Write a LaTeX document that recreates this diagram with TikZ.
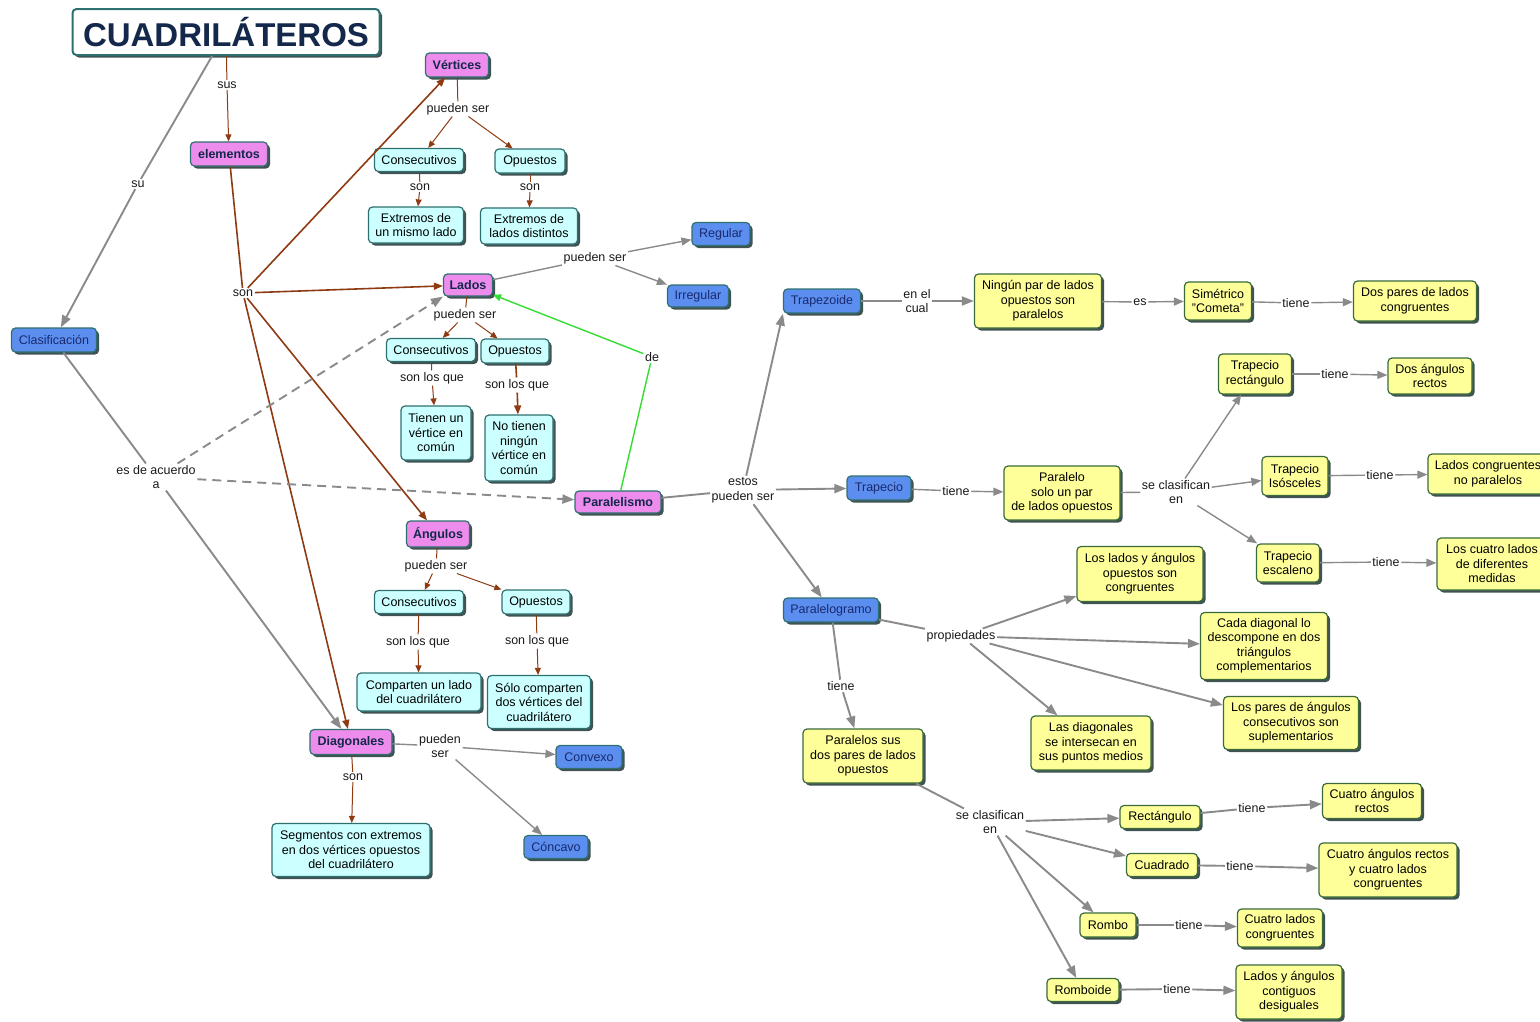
\documentclass[tikz,border=0pt]{standalone}
\usepackage{fontspec}
\setmainfont{Liberation Sans}
\usetikzlibrary{arrows.meta,shadows}
\definecolor{pinkf}{HTML}{EE8CEE}
\definecolor{cyanf}{HTML}{CCFFFF}
\definecolor{bluef}{HTML}{5B8EEE}
\definecolor{yellf}{HTML}{FFFF99}
\definecolor{bordc}{HTML}{2E7070}
\definecolor{yellb}{HTML}{3A6A3A}
\definecolor{shadc}{HTML}{1E3434}
\definecolor{navyt}{HTML}{13284A}
\definecolor{navyb}{HTML}{1A2A70}
\definecolor{brownc}{HTML}{8E3A12}
\definecolor{grayc}{HTML}{8A8A8A}
\definecolor{greenc}{HTML}{33DD33}
\newcommand\nfont{\fontsize{12.5}{14.5}\selectfont}
\begin{document}
\begin{tikzpicture}[x=1pt,y=-1pt,
 base/.style={draw=bordc, line width=1.2pt, rounded corners=4pt, align=center, inner sep=2pt, font=\nfont,
   drop shadow={shadow xshift=2.5pt,shadow yshift=-2.5pt,fill=shadc,opacity=0.85}},
 pinkn/.style={base, fill=pinkf, text=navyt, font=\nfont\bfseries},
 cyann/.style={base, fill=cyanf, text=black},
 bluen/.style={base, fill=bluef, text=navyb},
 yelln/.style={base, fill=yellf, draw=yellb, text=black},
 sz/.style 2 args={minimum width=#1pt, minimum height=#2pt},
 lbl/.style={inner sep=1.5pt, text=black!90, align=center, font=\nfont},
 bline/.style={draw=brownc, line width=1pt},
 barrow/.style={bline, -{Triangle[length=7pt,width=6pt]}},
 Bline/.style={draw=brownc, line width=1.6pt},
 Barrow/.style={Bline, -{Triangle[length=9pt,width=7pt]}},
 gline/.style={draw=grayc, line width=1.9pt},
 garrow/.style={gline, -{Triangle[length=12pt,width=9pt]}},
 tline/.style={draw=grayc, line width=1.4pt},
 tarrow/.style={tline, -{Triangle[length=10pt,width=8pt]}},
 gdash/.style={draw=grayc, line width=1.9pt, dash pattern=on 9pt off 6pt, -{Triangle[length=12pt,width=9pt]}},
 grline/.style={draw=greenc, line width=1.4pt},
]
\useasboundingbox (0,0) rectangle (1540,1021);
% ---------- main nodes ----------
\node[base, draw=bordc, line width=2pt, fill=white, text=navyt, sz={307}{46}, font=\fontsize{33}{38}\selectfont\bfseries] (title) at (226,32) {CUADRILÁTEROS};
\node[pinkn, sz={77}{24}] (elem) at (229,154) {elementos};
\node[pinkn, sz={63}{24}] (vert) at (457,65) {Vértices};
\node[pinkn, sz={49}{22}] (lados) at (468,285) {Lados};
\node[pinkn, sz={63}{26}] (ang) at (438,534) {Ángulos};
\node[pinkn, sz={82}{25}] (diag) at (351,742) {Diagonales};
\node[pinkn, sz={86}{22}] (paral) at (618,502) {Paralelismo};
\node[bluen, sz={85}{24}] (clas) at (54,340) {Clasificación};
% ---------- labels left ----------
\node[lbl] (lsus) at (227,85) {sus};
\node[lbl] (lsu) at (138,184) {su};
\node[lbl] (lson) at (243,293) {son};
\node[lbl] (lacu) at (156,477) {es de acuerdo\\a};
% ---------- Vertices ----------
\node[lbl] (lvps) at (458,109) {pueden ser};
\node[cyann, sz={89}{23}] (vcon) at (419,160) {Consecutivos};
\node[cyann, sz={70}{24}] (vop) at (530,161) {Opuestos};
\node[lbl] (lvs1) at (420,187) {son};
\node[lbl] (lvs2) at (530,187) {son};
\node[cyann, sz={95}{36}] (vext1) at (416,225) {Extremos de\\un mismo lado};
\node[cyann, sz={97}{36}] (vext2) at (529,226) {Extremos de\\lados distintos};
% ---------- Lados ----------
\node[lbl] (llps1) at (595,258) {pueden ser};
\node[bluen, sz={58}{23}] (reg) at (721,234) {Regular};
\node[bluen, sz={61}{22}] (irr) at (698,296) {Irregular};
\node[lbl] (llps2) at (465,315) {pueden ser};
\node[cyann, sz={89}{23}] (lcon) at (431,350) {Consecutivos};
\node[cyann, sz={68}{24}] (lop) at (515,351) {Opuestos};
\node[lbl] (lsq1) at (432,378) {son los que};
\node[lbl] (lsq2) at (517,385) {son los que};
\node[cyann, sz={70}{54}] (lt1) at (436,433) {Tienen un\\vértice en\\común};
\node[cyann, sz={68}{66}] (lt2) at (519,448) {No tienen\\ningún\\vértice en\\común};
% ---------- Angulos ----------
\node[lbl] (laps) at (436,566) {pueden ser};
\node[cyann, sz={89}{23}] (acon) at (419,602) {Consecutivos};
\node[cyann, sz={68}{24}] (aop) at (536,602) {Opuestos};
\node[lbl] (asq1) at (418,642) {son los que};
\node[lbl] (asq2) at (537,641) {son los que};
\node[cyann, sz={124}{38}] (at1) at (419,692) {Comparten un lado\\del cuadrilátero};
\node[cyann, sz={103}{53}] (at2) at (539,702) {Sólo comparten\\dos vértices del\\cuadrilátero};
% ---------- Diagonales ----------
\node[lbl] (ldson) at (353,777) {son};
\node[cyann, sz={158}{53}] (dseg) at (351,850) {Segmentos con extremos\\en dos vértices opuestos\\del cuadrilátero};
\node[lbl] (ldps) at (440,746) {pueden\\ser};
\node[bluen, sz={66}{23}] (conv) at (589,757) {Convexo};
\node[bluen, sz={64}{23}] (conc) at (556,847) {Cóncavo};
% ---------- Paralelismo ----------
\node[lbl] (lde) at (652,357) {de};
\node[lbl] (lest) at (743,490) {estos\\pueden ser};
\node[bluen, sz={77}{24}] (trz) at (822,301) {Trapezoide};
\node[bluen, sz={64}{24}] (trp) at (879,488) {Trapecio};
\node[bluen, sz={95}{24}] (plg) at (831,610) {Paralelogramo};
% ---------- Trapezoide ----------
\node[lbl] (lenc) at (917,301) {en el\\cual};
\node[yelln, sz={127}{54}] (ning) at (1038,301) {Ningún par de lados\\opuestos son\\paralelos};
\node[lbl] (les) at (1140,302) {es};
\node[yelln, sz={67}{38}] (sim) at (1218,301) {Simétrico\\"Cometa"};
\node[lbl] (lti1) at (1296,303) {tiene};
\node[yelln, sz={123}{40}] (dpl) at (1415,301) {Dos pares de lados\\congruentes};
% ---------- Trapecio ----------
\node[lbl] (lti2) at (956,491) {tiene};
\node[yelln, sz={116}{54}] (psp) at (1062,493) {Paralelo\\solo un par\\de lados opuestos};
\node[lbl] (lscl1) at (1176,492) {se clasifican\\en};
\node[yelln, sz={73}{40}] (trr) at (1255,374) {Trapecio\\rectángulo};
\node[yelln, sz={66}{39}] (tri) at (1295,476) {Trapecio\\Isósceles};
\node[yelln, sz={63}{38}] (tre) at (1288,563) {Trapecio\\escaleno};
\node[lbl] (lti3) at (1335,374) {tiene};
\node[yelln, sz={84}{36}] (dar) at (1430,376) {Dos ángulos\\rectos};
\node[lbl] (lti4) at (1380,475) {tiene};
\node[yelln, sz={120}{40}] (lcnp) at (1488,474) {Lados congruentes\\no paralelos};
\node[lbl] (lti5) at (1386,562) {tiene};
\node[yelln, sz={110}{52}] (lcdm) at (1492,564) {Los cuatro lados\\de diferentes\\medidas};
% ---------- Paralelogramo ----------
\node[lbl] (lprop) at (961,636) {propiedades};
\node[yelln, sz={126}{55}] (p1) at (1140,574) {Los lados y ángulos\\opuestos son\\congruentes};
\node[yelln, sz={127}{67}] (p2) at (1264,646) {Cada diagonal lo\\descompone en dos\\triángulos\\complementarios};
\node[yelln, sz={135}{53}] (p3) at (1291,723) {Los pares de ángulos\\consecutivos son\\suplementarios};
\node[yelln, sz={120}{54}] (p4) at (1091,743) {Las diagonales\\se intersecan en\\sus puntos medios};
\node[lbl] (lti6) at (841,686) {tiene};
\node[yelln, sz={120}{54}] (pdp) at (863,756) {Paralelos sus\\dos pares de lados\\opuestos};
\node[lbl] (lscl2) at (990,822) {se clasifican\\en};
\node[yelln, sz={80}{23}] (rect) at (1160,817) {Rectángulo};
\node[yelln, sz={71}{23}] (cuad) at (1162,865) {Cuadrado};
\node[yelln, sz={56}{24}] (romb) at (1108,925) {Rombo};
\node[yelln, sz={72}{23}] (rbd) at (1083,990) {Romboide};
\node[lbl] (lti7) at (1252,808) {tiene};
\node[yelln, sz={99}{35}] (car) at (1372,801) {Cuatro ángulos\\rectos};
\node[lbl] (lti8) at (1240,866) {tiene};
\node[yelln, sz={138}{54}] (carc) at (1388,870) {Cuatro ángulos rectos\\y cuatro lados\\congruentes};
\node[lbl] (lti9) at (1189,925) {tiene};
\node[yelln, sz={85}{38}] (clc) at (1280,928) {Cuatro lados\\congruentes};
\node[lbl] (lti10) at (1177,989) {tiene};
\node[yelln, sz={106}{54}] (lacd) at (1289,992) {Lados y ángulos\\contiguos\\desiguales};
% ================= connectors =================
\draw[gline] (title) -- (lsu);
\draw[garrow] (lsu) -- (clas);
\draw[bline] (title) -- (lsus);
\draw[barrow] (lsus) -- (elem);
\draw[Bline] (elem) -- (lson);
\draw[Barrow] (lson) -- (vert);
\draw[Barrow] (lson) -- (lados);
\draw[Barrow] (lson) -- (ang);
\draw[Barrow] (lson) -- (diag);
\draw[gline] (clas) -- (lacu);
\draw[gdash] (lacu) -- (lados.south west);
\draw[gdash] (lacu) -- (paral);
\draw[garrow] (lacu) -- (diag);
% vertices
\draw[bline] (vert) -- (lvps);
\draw[barrow] (lvps) -- (vcon);
\draw[barrow] (lvps) -- (vop);
\draw[bline] (vcon) -- (lvs1);
\draw[barrow] (lvs1) -- (vext1);
\draw[bline] (vop) -- (lvs2);
\draw[barrow] (lvs2) -- (vext2);
% lados
\draw[tline] (lados) -- (llps1);
\draw[tarrow] (llps1) -- (reg);
\draw[tarrow] (llps1) -- (irr);
\draw[bline] (lados) -- (llps2);
\draw[barrow] (llps2) -- (lcon);
\draw[barrow] (llps2) -- (lop);
\draw[bline] (lcon) -- (lsq1);
\draw[barrow] (lsq1) -- (lt1);
\draw[Bline] (lop) -- (lsq2);
\draw[Barrow] (lsq2) -- (lt2);
% angulos
\draw[bline] (ang) -- (laps);
\draw[barrow] (laps) -- (acon);
\draw[barrow] (laps) -- (aop);
\draw[bline] (acon) -- (asq1);
\draw[barrow] (asq1) -- (at1);
\draw[bline] (aop) -- (asq2);
\draw[barrow] (asq2) -- (at2);
% diagonales
\draw[bline] (diag) -- (ldson);
\draw[barrow] (ldson) -- (dseg);
\draw[tline] (diag) -- (ldps);
\draw[tarrow] (ldps) -- (conv);
\draw[tarrow] (ldps) -- (conc);
% paralelismo
\draw[grline] (paral) -- (lde);
\draw[grline, -{Triangle[length=8pt,width=7pt]}] (lde) -- (lados);
\draw[gline] (paral) -- (lest);
\draw[garrow] (lest) -- (trz.south west);
\draw[garrow] (lest) -- (trp);
\draw[garrow] (lest) -- (plg);
% trapezoide
\draw[gline] (trz) -- (lenc);
\draw[garrow] (lenc) -- (ning);
\draw[tline] (ning) -- (les);
\draw[tarrow] (les) -- (sim);
\draw[tline] (sim) -- (lti1);
\draw[tarrow] (lti1) -- (dpl);
% trapecio
\draw[tline] (trp) -- (lti2);
\draw[tarrow] (lti2) -- (psp);
\draw[tline] (psp) -- (lscl1);
\draw[tarrow] (lscl1) -- (trr);
\draw[tarrow] (lscl1) -- (tri);
\draw[tarrow] (lscl1) -- (tre);
\draw[tline] (trr) -- (lti3);
\draw[tarrow] (lti3) -- (dar);
\draw[tline] (tri) -- (lti4);
\draw[tarrow] (lti4) -- (lcnp);
\draw[tline] (tre) -- (lti5);
\draw[tarrow] (lti5) -- (lcdm);
% paralelogramo
\draw[gline] (plg) -- (lprop);
\draw[garrow] (lprop) -- (p1);
\draw[garrow] (lprop) -- (p2);
\draw[garrow] (lprop) -- (p3);
\draw[garrow] (lprop) -- (p4);
\draw[gline] (plg) -- (lti6);
\draw[garrow] (lti6) -- (pdp);
\draw[gline] (pdp) -- (lscl2);
\draw[garrow] (lscl2) -- (rect);
\draw[garrow] (lscl2) -- (cuad);
\draw[garrow] (lscl2) -- (romb);
\draw[garrow] (lscl2) -- (rbd);
\draw[gline] (rect) -- (lti7);
\draw[garrow] (lti7) -- (car);
\draw[gline] (cuad) -- (lti8);
\draw[garrow] (lti8) -- (carc);
\draw[gline] (romb) -- (lti9);
\draw[garrow] (lti9) -- (clc);
\draw[gline] (rbd) -- (lti10);
\draw[garrow] (lti10) -- (lacd);
\end{tikzpicture}
\end{document}
